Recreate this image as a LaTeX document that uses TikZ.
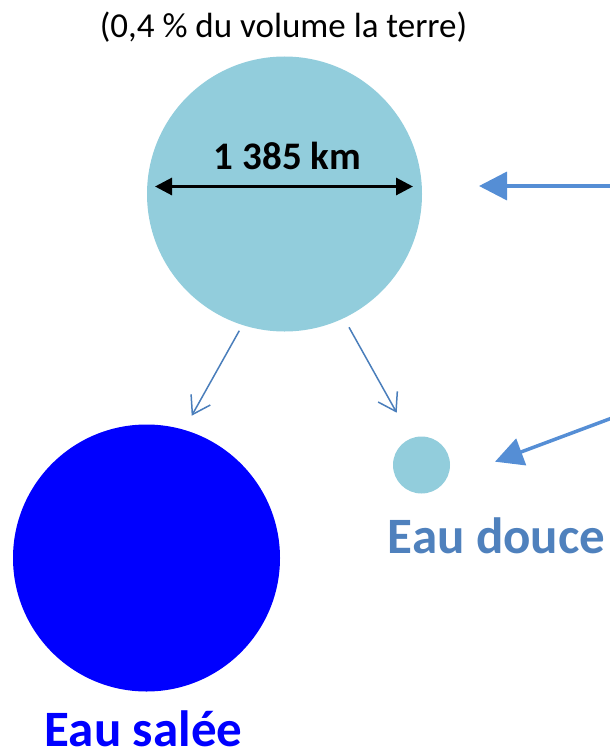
\documentclass[tikz,border=0pt]{standalone}
\usepackage{fontspec}
\setmainfont{Carlito}
\usetikzlibrary{arrows.meta}
\definecolor{lightwater}{RGB}{146,205,220}
\definecolor{saltblue}{RGB}{0,0,255}
\definecolor{freshtext}{RGB}{79,129,189}
\definecolor{bigarrow}{RGB}{85,142,213}
\definecolor{thinarrow}{RGB}{74,126,187}
\tikzset{
  ball/.style={circle, inner sep=0pt, draw=none},
  thin arrow/.style={draw=thinarrow, line width=1.5pt, -{Straight Barb[length=17pt,width=22pt,line width=1.5pt]}},
  fat arrow/.style={draw=bigarrow, line width=3.5pt, -{Triangle[length=28pt,width=28pt]}},
  label text/.style={inner sep=0pt, anchor=base, font=\fontsize{51}{56}\selectfont\bfseries}
}
\begin{document}
\begin{tikzpicture}[x=1pt,y=-1pt]
\useasboundingbox (0,0) rectangle (610,752);
% circles
\node[ball, fill=lightwater, minimum size=275pt] (big) at (284.5,194) {};
\node[ball, fill=saltblue, minimum size=267pt] (salt) at (146.5,558) {};
\node[ball, fill=lightwater, minimum size=57pt] (fresh) at (421.5,465) {};
% texts
\node[inner sep=0pt, anchor=base, font=\fontsize{35}{40}\selectfont] (caption) at (283.5,38) {(0,4 \% du volume la terre)};
\node[inner sep=0pt, anchor=base, font=\fontsize{39}{44}\selectfont\bfseries] (diam) at (287.5,169) {1 385 km};
\node[label text, text=freshtext] (freshlbl) at (496.5,553) {Eau douce};
\node[label text, text=saltblue] (saltlbl) at (143.5,746) {Eau salée};
% diameter arrow
\coordinate (dl) at (155,186.5);
\coordinate (dr) at (413,186.5);
\draw[line width=3pt, {Triangle[length=17pt,width=17pt]}-{Triangle[length=17pt,width=17pt]}] (dl) -- (dr);
% thin arrows
\coordinate (s1) at (239.3,330.7);
\coordinate (t1) at (191.7,415.7);
\coordinate (s2) at (349,327.3);
\coordinate (t2) at (396.7,412.7);
\draw[thin arrow] (s1) -- (t1);
\draw[thin arrow] (s2) -- (t2);
% big arrows from right
\coordinate (r1) at (612,186);
\coordinate (h1) at (479,186);
\coordinate (r2) at (612,418);
\coordinate (h2) at (495,461.7);
\draw[fat arrow] (r1) -- (h1);
\draw[fat arrow] (r2) -- (h2);
\end{tikzpicture}
\end{document}
